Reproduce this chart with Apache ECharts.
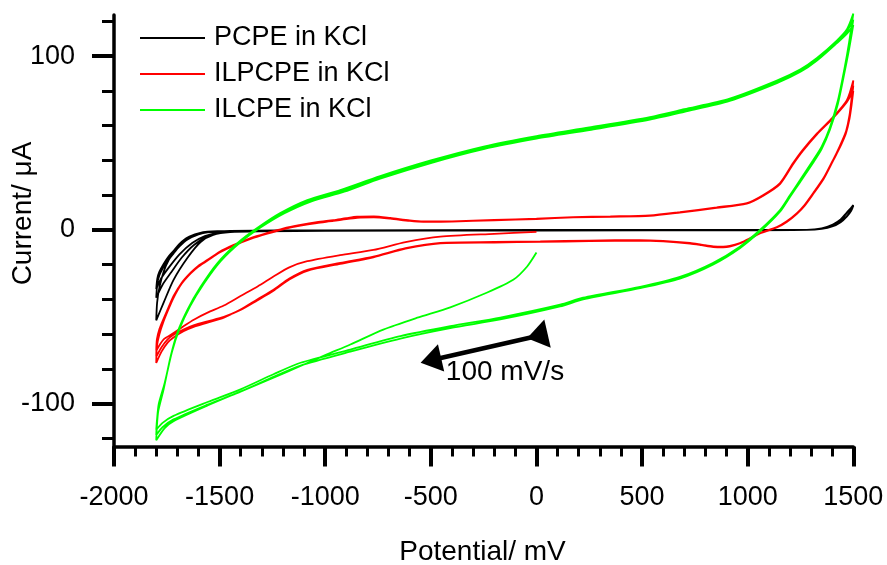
<!DOCTYPE html>
<html>
<head>
<meta charset="utf-8">
<script src="https://cdn.jsdelivr.net/npm/echarts@6/dist/echarts.min.js"></script>
<style>html,body{margin:0;padding:0;background:#fff;}#c{width:887px;height:565px;}</style>
</head>
<body>
<div id="c"></div>
<script>
// ---- data: [potential mV, current µA] ----
var seriesNames = ['PCPE in KCl', 'ILPCPE in KCl', 'ILCPE in KCl'];
var xTickLabels = [-2000, -1500, -1000, -500, 0, 500, 1000, 1500];
var yMajorTicks = [-100, 0, 100];
var yMinorTicks = [-120, -80, -60, -40, -20, 20, 40, 60, 80, 120];
var arrowFrom = [-500, -75];
var arrowTo = [4, -61];
var arrowLabel = '100 mV/s';

// PCPE (black)
var pcpeNeg1 = [[0,-0.2],[-500,-0.3],[-1000,-0.5],[-1300,-0.8],[-1450,-1.3],[-1530,-2.9],[-1590,-6.9],[-1652,-16],[-1718,-28.7],[-1765,-41.8],[-1800,-52]];
var pcpeFwd1 = [[-1796,-42],[-1785,-33],[-1765,-24],[-1740,-17],[-1718,-13.5],[-1690,-9.5],[-1652,-5.5],[-1600,-2.6],[-1558,-1.4],[-1450,-0.6],[-1000,-0.2],[0,0],[1000,0],[1280,0.1],[1350,0.8],[1403,2.9],[1440,5.6],[1469,9.7],[1500,14.4]];
var pcpeRev1 = [[1490,11.5],[1470,8],[1440,4.6],[1400,2.1],[1350,0.7],[1280,0],[1000,-0.2],[0,-0.3],[-1000,-0.5],[-1400,-0.9],[-1500,-1.8],[-1560,-4],[-1620,-8.5],[-1680,-16],[-1730,-24.5],[-1770,-31.5],[-1800,-39]];
var pcpeFwd2 = [[-1795,-31],[-1785,-26],[-1765,-21.2],[-1740,-16],[-1718,-12.6],[-1690,-8.5],[-1652,-4.6],[-1600,-2.2],[-1558,-1.1],[-1449,-0.5],[-1000,-0.2],[0,0],[1000,0],[1280,0.1],[1350,0.9],[1403,3.1],[1440,6],[1469,10],[1500,14]];
var pcpeRev2 = [[1490,11],[1470,7.8],[1440,4.4],[1400,2],[1350,0.6],[1280,0],[1000,-0.2],[0,-0.3],[-1000,-0.5],[-1400,-0.8],[-1500,-1.5],[-1570,-3.5],[-1630,-7.5],[-1690,-14],[-1740,-21.5],[-1775,-27.5],[-1800,-34]];
var pcpeFwd3 = [[-1795,-28],[-1785,-24],[-1765,-19.5],[-1740,-15],[-1718,-12],[-1690,-8],[-1652,-4.3],[-1600,-2],[-1558,-1],[-1449,-0.5],[-1000,-0.2],[0,0],[1000,0],[1280,0.1],[1350,0.9],[1403,3],[1440,5.8],[1469,9.9],[1500,13.8]];
var pcpeRev3 = [[1490,11.2],[1470,7.9],[1440,4.5],[1400,2],[1350,0.6],[1280,0],[1000,-0.2],[0,-0.3]];

// ILPCPE (red)
var ilpNeg1 = [[0,-1.1],[-200,-2.2],[-455,-3.8],[-620,-7],[-772,-11.5],[-930,-14.5],[-1085,-18],[-1170,-21.5],[-1245,-26.8],[-1320,-32.5],[-1401,-38],[-1480,-43.5],[-1557,-47.6],[-1620,-51.5],[-1671,-55.4],[-1720,-59.5],[-1765,-63],[-1800,-69.5]];
var ilpFwd1 = [[-1797,-63],[-1785,-57],[-1765,-51],[-1740,-44],[-1718,-38],[-1680,-30.5],[-1637,-24.6],[-1600,-20.5],[-1557,-17.2],[-1500,-12.5],[-1433,-8.6],[-1350,-4.5],[-1274,-1.7],[-1200,0.8],[-1117,2.9],[-1040,4.5],[-961,5.7],[-900,6.8],[-849,7.6],[-770,7.8],[-692,6.9],[-600,5.5],[-536,4.9],[-400,5],[-200,5.8],[0,6.5],[174,7.4],[350,7.8],[537,8.4],[679,10.3],[853,13],[996,15.5],[1072,20],[1153,27],[1215,38.5],[1260,46],[1328,55.6],[1403,64.8],[1469,74.5],[1500,86]];
var ilpRev1 = [[1492,76],[1482,66],[1466,57],[1446,51],[1420,44],[1403,40],[1360,30],[1309,21],[1270,14.5],[1233,9.7],[1185,5],[1138,1.7],[1058,-1.7],[1010,-4.8],[963,-7.5],[915,-9.2],[884,-9.6],[837,-9.4],[780,-8.4],[727,-7.5],[600,-6.3],[491,-5.8],[250,-6.1],[18,-6.6],[-200,-6.9],[-455,-7.4],[-620,-10.5],[-772,-15.3],[-929,-19],[-1085,-23],[-1170,-28],[-1245,-34.4],[-1322,-40],[-1401,-45.8],[-1480,-50.4],[-1557,-53.3],[-1620,-55.6],[-1671,-58.3],[-1720,-62],[-1746,-64.8],[-1775,-70],[-1800,-76.5]];
var ilpFwd2 = [[-1797,-67],[-1785,-60],[-1765,-52.5],[-1740,-45],[-1718,-39],[-1680,-31],[-1637,-25],[-1600,-21],[-1557,-17.6],[-1500,-13],[-1433,-9],[-1350,-5],[-1274,-2.1],[-1200,0.4],[-1117,2.5],[-1040,4],[-961,5.2],[-900,6.3],[-849,7],[-770,7.2],[-692,6.5],[-600,5.2],[-536,4.7],[-400,4.8],[-200,5.6],[0,6.3],[174,7.2],[350,7.6],[537,8.1],[679,10],[853,12.7],[996,15.2],[1072,19.6],[1153,26.4],[1215,37.8],[1260,45.3],[1328,55],[1403,64.2],[1469,73.5],[1500,80]];
var ilpRev2 = [[1492,72],[1482,64],[1466,56],[1446,50],[1420,43.5],[1403,39.5],[1360,29.5],[1309,20.5],[1270,14],[1233,9.3],[1185,4.6],[1138,1.4],[1058,-2],[1010,-5],[963,-7.8],[915,-9.6],[884,-10],[837,-9.8],[780,-8.7],[727,-7.8],[600,-6.6],[491,-6.1],[250,-6.4],[18,-6.9],[-200,-7.2],[-455,-7.7],[-620,-10.8],[-772,-15.7],[-929,-19.5],[-1085,-23.5],[-1170,-28.5],[-1245,-35],[-1322,-40.5],[-1401,-46],[-1480,-50],[-1557,-52.6],[-1620,-54.8],[-1671,-57.3],[-1720,-60.5],[-1746,-63],[-1775,-67.5],[-1800,-73]];
var ilpFwd3 = [[-1797,-65],[-1785,-58.5],[-1765,-51.5],[-1740,-44.5],[-1718,-38.5],[-1680,-30.8],[-1637,-24.8],[-1600,-20.8],[-1557,-17.4],[-1500,-12.8],[-1433,-8.8],[-1350,-4.8],[-1274,-1.9],[-1200,0.6],[-1117,2.7],[-1040,4.3],[-961,5.5],[-900,6.6],[-849,7.3],[-770,7.5],[-692,6.7],[-600,5.4],[-536,4.8],[-400,4.9],[-200,5.7],[0,6.4],[174,7.3],[350,7.7],[537,8.3],[679,10.2],[853,12.9],[996,15.4],[1072,19.8],[1153,26.7],[1215,38.2],[1260,45.6],[1328,55.3],[1403,64.5],[1469,74],[1500,83]];
var ilpRev3 = [[1492,74],[1482,65],[1466,56.5],[1446,50.5],[1420,43.8],[1403,39.8],[1360,29.8],[1309,20.8],[1270,14.2],[1233,9.5],[1185,4.8],[1138,1.5],[1058,-1.9],[1010,-4.9],[963,-7.6],[915,-9.4],[884,-9.8],[837,-9.6],[780,-8.5],[727,-7.6],[600,-6.4],[491,-5.9],[250,-6.2],[0,-6.7]];

// ILCPE (green)
var ilcStart = [[0,-13],[-44,-21],[-110,-28.7],[-233,-36],[-408,-44.5],[-564,-50.5],[-725,-57.3],[-881,-65.9],[-1000,-72],[-1117,-78.3],[-1245,-85],[-1401,-93],[-1557,-101],[-1718,-110],[-1760,-114],[-1800,-121]];
var ilcFwd1 = [[-1797,-113],[-1790,-104],[-1765,-91.7],[-1732,-72.8],[-1700,-59],[-1652,-45.8],[-1590,-32.7],[-1510,-19],[-1416,-7.6],[-1322,1.1],[-1213,9.7],[-1085,17.2],[-929,23],[-740,31],[-500,40],[-250,48],[0,54],[250,59],[537,65],[700,69.5],[915,75.6],[1138,86],[1250,92.5],[1328,99],[1422,109],[1470,115.5],[1500,124.5]];
var ilcRev1 = [[1480,108],[1459,93.4],[1427,74.5],[1389,59],[1350,48],[1309,40],[1248,28.7],[1200,20],[1153,11.5],[1058,0],[963,-9.6],[835,-19],[679,-27],[491,-32.7],[221,-39],[112,-43],[-171,-50.4],[-408,-55.4],[-644,-61.1],[-881,-68.8],[-1117,-76.4],[-1245,-83],[-1401,-91.7],[-1557,-99],[-1718,-107],[-1770,-111],[-1800,-115]];
var ilcFwd2 = [[-1797,-110],[-1788,-100],[-1760,-88],[-1725,-70],[-1690,-57],[-1640,-44],[-1575,-31],[-1495,-18],[-1400,-7],[-1305,1.5],[-1195,9.5],[-1065,16.5],[-910,22],[-740,29.5],[-500,38.5],[-250,46.5],[0,52.5],[250,57.5],[537,63.5],[700,68],[915,74.3],[1138,84.5],[1250,91],[1328,97.5],[1422,107.5],[1470,113],[1500,118]];
var ilcRev2 = [[1480,104],[1459,91],[1427,72.5],[1389,57.5],[1350,46.5],[1309,38.5],[1248,27.5],[1200,19],[1153,10.5],[1058,-1],[963,-10.5],[835,-20],[679,-28],[491,-33.5],[221,-40],[112,-44],[-171,-51.5],[-408,-56.5],[-644,-62.5],[-881,-70],[-1117,-78],[-1245,-84.5],[-1401,-93],[-1557,-100.5],[-1718,-109],[-1770,-113.5],[-1800,-118]];
var ilcFwd3 = [[-1797,-111],[-1789,-102],[-1763,-90],[-1729,-71.5],[-1695,-58],[-1646,-45],[-1582,-32],[-1502,-18.5],[-1408,-7.3],[-1313,1.3],[-1204,9.6],[-1075,16.8],[-920,22.5],[-740,30.2],[-500,39.2],[-250,47.2],[0,53.2],[250,58.2],[537,64.2],[700,68.7],[915,75],[1138,85.2],[1250,91.7],[1328,98.2],[1422,108.2],[1470,114.5],[1500,121]];
var ilcRev3 = [[1480,106],[1459,92.2],[1427,73.5],[1389,58.2],[1350,47.2],[1309,39.2],[1248,28.1],[1200,19.5],[1153,11],[1058,-0.5],[963,-10],[835,-19.5],[679,-27.5],[491,-33.1],[221,-39.5],[112,-43.5],[0,-46]];

var pcpeData = [].concat(pcpeNeg1, pcpeFwd1, pcpeRev1, pcpeFwd2, pcpeRev2, pcpeFwd3, pcpeRev3);
var ilpData = [].concat(ilpNeg1, ilpFwd1, ilpRev1, ilpFwd2, ilpRev2, ilpFwd3, ilpRev3);
var ilcData = [].concat(ilcStart, ilcFwd1, ilcRev1, ilcFwd2, ilcRev2, ilcFwd3, ilcRev3);

var FONT = '"Liberation Sans", Arial, sans-serif';
var chart = echarts.init(document.getElementById('c'), null, {renderer: 'canvas'});

function lineSeries(name, data, color) {
  return {
    name: name, type: 'line', data: data, symbol: 'none', smooth: 0.25,
    lineStyle: {color: color, width: 1.8}, itemStyle: {color: color},
    emphasis: {disabled: true}, silent: true, clip: false
  };
}

var green = lineSeries(seriesNames[2], ilcData, '#00ff00');
green.markLine = {
  silent: true, animation: false,
  label: {show: false},
  lineStyle: {color: '#000', width: 4.5, type: 'solid'},
  emphasis: {disabled: true},
  data: [[
    {coord: arrowFrom, symbol: 'triangle', symbolSize: [28, 21]},
    {coord: arrowTo, symbol: 'path://M0,0L10,0L5,10Z', symbolSize: [29, 21]}
  ]]
};

var option = {
  animation: false,
  backgroundColor: '#fff',
  textStyle: {fontFamily: FONT},
  grid: {left: 114, right: 33.7, top: 15, bottom: 118.5, containLabel: false},
  legend: {
    data: seriesNames, orient: 'vertical', left: 140, top: 24.5, padding: 0,
    icon: 'rect', itemWidth: 65, itemHeight: 2, itemGap: 9, selectedMode: false,
    textStyle: {fontSize: 27, color: '#000', fontFamily: FONT, lineHeight: 27, padding: [0, 0, 0, 4]}
  },
  xAxis: {
    type: 'value', min: -2000, max: 1500, interval: 500,
    axisLine: {onZero: false, lineStyle: {color: '#000', width: 3.5}},
    axisTick: {inside: false, length: 20, lineStyle: {color: '#000', width: 4}},
    minorTick: {show: true, splitNumber: 5, length: 10, lineStyle: {color: '#000', width: 3}},
    axisLabel: {fontSize: 27, color: '#000', margin: 38, fontFamily: FONT,
      formatter: function (v) { return xTickLabels.indexOf(v) >= 0 ? String(v) : ''; }},
    splitLine: {show: false}, minorSplitLine: {show: false}
  },
  yAxis: [{
    type: 'value', min: -124.6, max: 123.7,
    axisLine: {onZero: false, lineStyle: {color: '#000', width: 3.5}},
    axisTick: {inside: false, length: 22, customValues: yMajorTicks, lineStyle: {color: '#000', width: 4}},
    axisLabel: {fontSize: 27, color: '#000', margin: 39, customValues: yMajorTicks, fontFamily: FONT,
      formatter: function (v) { return String(v); }},
    splitLine: {show: false}
  }, {
    type: 'value', min: -124.6, max: 123.7, position: 'left',
    axisLine: {show: false, onZero: false},
    axisTick: {inside: false, length: 12, customValues: yMinorTicks, lineStyle: {color: '#000', width: 3}},
    axisLabel: {show: false},
    splitLine: {show: false}
  }],
  graphic: [
    {type: 'text', x: 482.5, y: 552, style: {text: 'Potential/ mV', fontSize: 28, fontFamily: FONT, fill: '#000', textAlign: 'center', textVerticalAlign: 'middle'}},
    {type: 'text', x: 23.5, y: 213.5, rotation: Math.PI / 2, style: {text: 'Current/ μA', fontSize: 28, fontFamily: FONT, fill: '#000', textAlign: 'center', textVerticalAlign: 'middle'}},
    {type: 'text', x: 505, y: 372, z: 100, style: {text: arrowLabel, fontSize: 28, fontFamily: FONT, fill: '#000', textAlign: 'center', textVerticalAlign: 'middle'}}
  ],
  series: [
    lineSeries(seriesNames[0], pcpeData, '#000000'),
    lineSeries(seriesNames[1], ilpData, '#ff0000'),
    green
  ]
};
chart.setOption(option);
</script>
</body>
</html>
